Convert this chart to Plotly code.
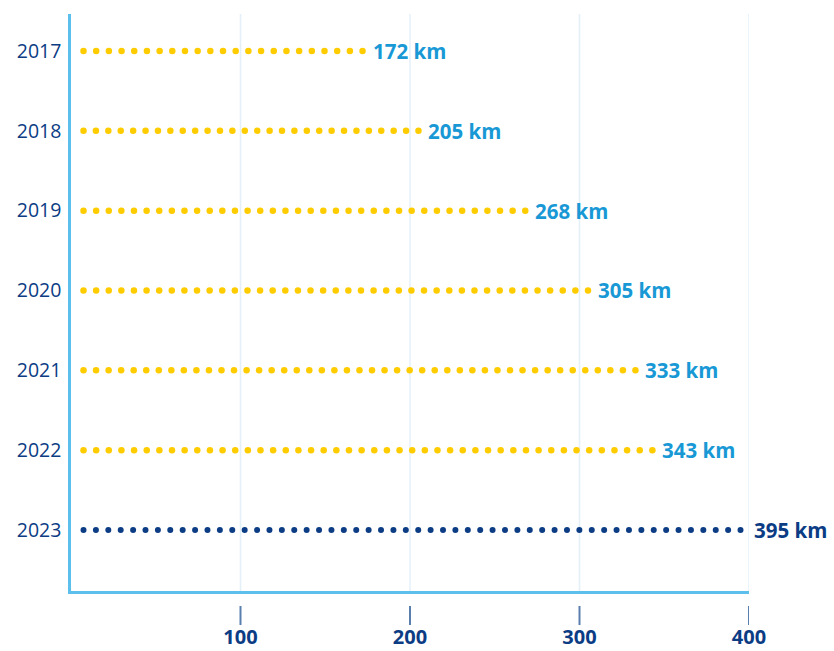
import numpy as np
import plotly.graph_objects as go

# Length of network per year (km)
years = [2017, 2018, 2019, 2020, 2021, 2022, 2023]
lengths_km = [172, 205, 268, 305, 333, 343, 395]
x_ticks = [100, 200, 300, 400]
x_tick_labels = ["100", "200", "300", "400"]

YELLOW = "#ffcc00"
NAVY = "#0b3c84"
LIGHT_BLUE = "#1898d5"
AXIS_BLUE = "#5cbfec"
GRID_BLUE = "#e4f0f8"
TICK_BLUE = "#5a7fae"

DOT_STEP = 7.38  # approximate spacing of dots along each row, in km

fig = go.Figure()

for i, (yr, val) in enumerate(zip(years, lengths_km)):
    latest = i == len(years) - 1
    n_dots = int(round((val - DOT_STEP) / DOT_STEP)) + 1
    xs = np.linspace(DOT_STEP, val, n_dots)
    fig.add_trace(go.Scatter(
        x=xs, y=[yr] * len(xs), mode="markers",
        marker=dict(size=6 if latest else 6.5, color=NAVY if latest else YELLOW),
        hoverinfo="skip", showlegend=False,
    ))
    fig.add_annotation(
        x=val, y=yr, text=f"<b>{val} km</b>", showarrow=False,
        xanchor="left", yanchor="middle", xshift=11 if latest else 8,
        font=dict(family="Open Sans", size=20.5, color=NAVY if latest else LIGHT_BLUE),
    )

# vertical gridlines at the tick values
for t in x_ticks:
    fig.add_shape(type="line", xref="x", yref="paper", x0=t, x1=t, y0=0, y1=1,
                  line=dict(color=GRID_BLUE, width=1.5), layer="below")
    # detached tick marks below the axis
    fig.add_shape(type="line", xref="x", yref="paper", x0=t, x1=t, y0=-0.026, y1=-0.059,
                  line=dict(color=TICK_BLUE, width=2))

fig.update_layout(
    width=834, height=651,
    margin=dict(l=71, r=85, t=14, b=60),
    paper_bgcolor="white", plot_bgcolor="white",
    xaxis=dict(
        range=[0, 400], tickvals=x_ticks, ticktext=x_tick_labels,
        showgrid=False, zeroline=False, automargin=False,
        showline=True, linecolor=AXIS_BLUE, linewidth=2.5,
        ticks="", ticklabelstandoff=26,
        tickfont=dict(family="Open Sans", size=20, color=NAVY, weight="bold"),
    ),
    yaxis=dict(
        range=[2023.764, 2016.537], tickvals=years, ticktext=[str(y) for y in years],
        showgrid=False, zeroline=False, automargin=False,
        showline=True, linecolor=AXIS_BLUE, linewidth=2.5,
        ticks="", ticklabelstandoff=3,
        tickfont=dict(family="Open Sans", size=19.5, color=NAVY),
    ),
)

fig.write_html("out.html")
